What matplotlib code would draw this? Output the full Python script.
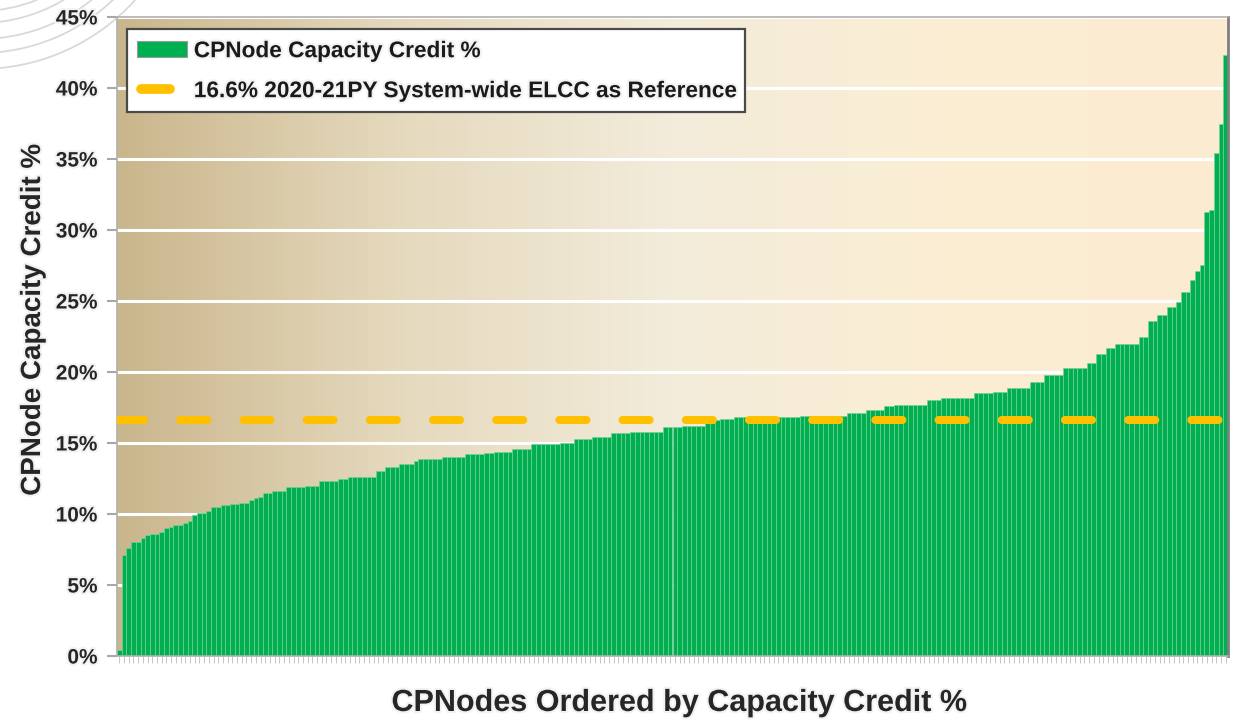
import matplotlib
matplotlib.use("Agg")
import matplotlib.pyplot as plt
import numpy as np
from matplotlib.colors import LinearSegmentedColormap
from matplotlib.patches import Patch, Circle
from matplotlib.lines import Line2D
from matplotlib.legend_handler import HandlerBase
import matplotlib.patheffects as pe

plt.rcParams['font.family'] = ['Liberation Sans', 'DejaVu Sans']
plt.rcParams['font.weight'] = 'bold'
plt.rcParams['lines.scale_dashes'] = False

# ---------------- data ----------------
capacity_credit = [
    0.4, 7.1, 7.6, 8.0, 8.0, 8.3, 8.5, 8.6, 8.6, 8.7,
    9.0, 9.1, 9.2, 9.2, 9.4, 9.5, 9.9, 10.1, 10.1, 10.2,
    10.5, 10.5, 10.6, 10.6, 10.7, 10.7, 10.8, 10.8, 11.0, 11.1,
    11.2, 11.5, 11.5, 11.6, 11.6, 11.6, 11.9, 11.9, 11.9, 11.9,
    12.0, 12.0, 12.0, 12.3, 12.3, 12.3, 12.3, 12.5, 12.5, 12.6,
    12.6, 12.6, 12.6, 12.6, 12.6, 13.0, 13.0, 13.3, 13.3, 13.3,
    13.5, 13.5, 13.5, 13.7, 13.9, 13.9, 13.9, 13.9, 13.9, 14.0,
    14.0, 14.0, 14.0, 14.0, 14.2, 14.2, 14.2, 14.2, 14.3, 14.3,
    14.4, 14.4, 14.4, 14.4, 14.6, 14.6, 14.6, 14.6, 14.9, 14.9,
    14.9, 14.9, 14.9, 14.9, 15.0, 15.0, 15.0, 15.3, 15.3, 15.3,
    15.3, 15.4, 15.4, 15.4, 15.4, 15.7, 15.7, 15.7, 15.7, 15.8,
    15.8, 15.8, 15.8, 15.8, 15.8, 15.8, 16.1, 16.1, 16.1, 16.1,
    16.2, 16.2, 16.2, 16.2, 16.2, 16.4, 16.4, 16.6, 16.7, 16.7,
    16.7, 16.8, 16.8, 16.8, 16.8, 16.8, 16.8, 16.8, 16.8, 16.8,
    16.8, 16.8, 16.8, 16.8, 16.8, 16.9, 16.9, 16.9, 16.9, 16.9,
    16.9, 16.9, 16.9, 16.9, 16.9, 17.1, 17.1, 17.1, 17.1, 17.3,
    17.3, 17.3, 17.3, 17.6, 17.6, 17.7, 17.7, 17.7, 17.7, 17.7,
    17.7, 17.7, 18.0, 18.0, 18.0, 18.2, 18.2, 18.2, 18.2, 18.2,
    18.2, 18.2, 18.5, 18.5, 18.5, 18.5, 18.6, 18.6, 18.6, 18.9,
    18.9, 18.9, 18.9, 18.9, 19.3, 19.3, 19.3, 19.8, 19.8, 19.8,
    19.8, 20.3, 20.3, 20.3, 20.3, 20.3, 20.6, 20.6, 21.3, 21.3,
    21.7, 21.7, 22.0, 22.0, 22.0, 22.0, 22.0, 22.5, 22.5, 23.6,
    23.6, 24.0, 24.0, 24.6, 24.6, 24.9, 25.6, 25.6, 26.5, 27.1,
    27.5, 31.3, 31.4, 35.4, 37.5, 42.3,
]
reference_elcc = 16.6
y_ticks = [0, 5, 10, 15, 20, 25, 30, 35, 40, 45]
y_tick_labels = ["0%", "5%", "10%", "15%", "20%", "25%", "30%", "35%", "40%", "45%"]
series_label = "CPNode Capacity Credit %"
reference_label = "16.6% 2020-21PY System-wide ELCC as Reference"
x_title = "CPNodes Ordered by Capacity Credit %"
y_title = "CPNode Capacity Credit %"


class ShortLineHandler(HandlerBase):
    """Legend handle: a short, round-capped thick line."""
    def create_artists(self, legend, orig_handle, xdescent, ydescent,
                       width, height, fontsize, trans):
        y = height / 2 - ydescent
        line = Line2D([0.08 * width - xdescent, 0.66 * width - xdescent], [y, y],
                      color=orig_handle.get_color(), lw=orig_handle.get_linewidth(),
                      solid_capstyle='round', transform=trans)
        return [line]


# ---------------- figure ----------------
W, H = 1236, 720
fig = plt.figure(figsize=(W / 100, H / 100), dpi=100)
fig.patch.set_facecolor('white')

# decorative arcs in top-left corner
bg = fig.add_axes([0, 0, 1, 1], zorder=-5)
bg.set_xlim(0, W)
bg.set_ylim(H, 0)
bg.axis('off')
for r in [151, 163, 179, 193, 209]:
    bg.add_patch(Circle((-20, -140), r, fill=False, edgecolor='#d9d9d9', lw=1.3))

glow = [pe.withStroke(linewidth=3, foreground='#f2f2f2')]

ax = fig.add_axes([117 / W, 64 / H, 1111 / W, 639 / H])
n = len(capacity_credit)
x = np.arange(n)

# gradient background
cmap = LinearSegmentedColormap.from_list(
    'bg', ['#cab68c', '#e5d9bd', '#f3ecdb', '#fbeed3', '#fcecd1'])
grad = np.linspace(0, 1, 512).reshape(1, -1)
ax.imshow(grad, extent=[0, 1, 0, 1], transform=ax.transAxes, aspect='auto',
          cmap=cmap, zorder=0, interpolation='bicubic')

ax.set_xlim(-0.5, n - 0.5)
ax.set_ylim(0, 45)

# grid
ax.set_axisbelow(True)
ax.yaxis.grid(True, color='white', lw=2.2, zorder=0.5)
ax.xaxis.grid(False)

ax.bar(x, capacity_credit, width=1.0, color='#00b050', edgecolor='#74d39c',
       linewidth=0.45, zorder=2)

ax.plot([-0.5, n - 0.5], [reference_elcc, reference_elcc], color='#ffc000',
        lw=5.8, dashes=(19.5, 26), dash_capstyle='round', zorder=3)

ax.set_yticks(y_ticks)
ax.set_yticklabels(y_tick_labels)
ax.tick_params(axis='y', length=7, width=1.5, color='#a8a8a8', pad=7,
               labelsize=15, labelcolor='#262626')
for t in ax.get_yticklabels():
    t.set_path_effects(glow)
    t.set_fontweight('bold')

ax.set_xticks(x)
ax.tick_params(axis='x', length=5, width=0.6, color='#bdbdbd', labelbottom=False)

for s in ['left', 'bottom', 'top']:
    ax.spines[s].set_color('#b0b0b0')
    ax.spines[s].set_linewidth(1.2)
ax.spines['right'].set_color('#7f7f7f')
ax.spines['right'].set_linewidth(2)

# axis titles
fig.text(33 / W, 1 - 320 / H, y_title, rotation=90, ha='center', va='center',
         fontsize=20, fontweight='bold', color='#262626', path_effects=glow)
fig.text(679 / W, 1 - 703 / H, x_title, ha='center', va='center',
         fontsize=22, fontweight='bold', color='#262626', path_effects=glow)

# legend
ref_handle = Line2D([0], [0], color='#ffc000', lw=7)
handles = [
    Patch(facecolor='#00b050', edgecolor='#9a9a9a', linewidth=0.8),
    ref_handle,
]
leg = ax.legend(handles, [series_label, reference_label],
                handler_map={ref_handle: ShortLineHandler()},
                loc='upper left', bbox_to_anchor=(127 / W, 1 - 29 / H),
                bbox_transform=fig.transFigure, borderaxespad=0,
                frameon=True, fancybox=False, edgecolor='#4a4a4a',
                framealpha=1, facecolor='white', fontsize=16.3,
                handlelength=2.2, handletextpad=0.3, labelspacing=0.75,
                borderpad=0.45)
leg.get_frame().set_linewidth(1.6)
leg.set_zorder(10)
for t in leg.get_texts():
    t.set_fontweight('bold')
    t.set_color('#1a1a1a')
    t.set_path_effects(glow)

fig.savefig('out.png', dpi=100, facecolor='white')
